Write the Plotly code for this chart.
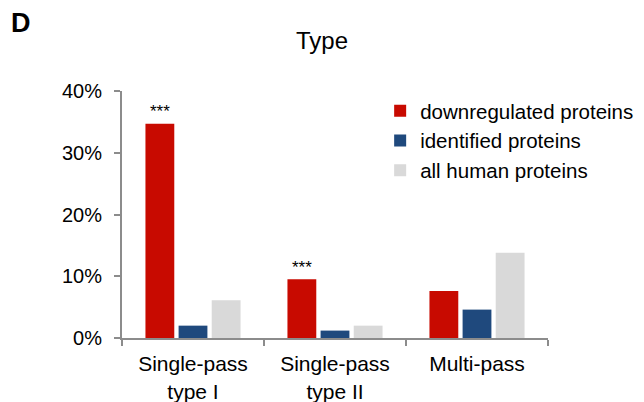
import plotly.graph_objects as go

categories = ["Single-pass<br>type I", "Single-pass<br>type II", "Multi-pass"]
series_names = ["downregulated proteins", "identified proteins", "all human proteins"]
downregulated = [34.7, 9.5, 7.6]
identified = [2.0, 1.2, 4.6]
all_human = [6.1, 2.0, 13.8]
significance = ["***", "***", ""]
y_ticks = [0, 10, 20, 30, 40]
y_tick_labels = ["0%", "10%", "20%", "30%", "40%"]

colors = ["#C80A00", "#1F497D", "#D9D9D9"]
font_family = "Arial, Liberation Sans, sans-serif"

fig = go.Figure()
for i, (name, vals) in enumerate(zip(series_names, [downregulated, identified, all_human])):
    fig.add_trace(go.Bar(
        x=categories, y=vals, name=name, legendgroup=f"g{i}",
        marker=dict(color=colors[i], line=dict(width=0)),
    ))

for cat, val, sig in zip(categories, downregulated, significance):
    if sig:
        fig.add_annotation(x=cat, y=val, text=sig, showarrow=False, xshift=-33,
                           yanchor="middle", yshift=12,
                           font=dict(size=17, color="#000", family=font_family))

fig.add_annotation(xref="paper", yref="paper", x=-0.265, y=1.275, text="<b>D</b>",
                   showarrow=False, xanchor="left", yanchor="middle",
                   font=dict(size=27, color="#000", family=font_family))

fig.update_layout(
    width=644, height=402,
    margin=dict(l=114, r=104, t=83, b=72, autoexpand=False),
    paper_bgcolor="white", plot_bgcolor="white",
    title=dict(text="Type", x=0.4876, xanchor="center", y=0.92, yanchor="middle",
               font=dict(size=24, color="#000", family=font_family)),
    barmode="group", bargap=0.3, bargroupgap=0.13,
    showlegend=True,
    legend=dict(x=0.606, y=1.0, xanchor="left", yanchor="top",
                font=dict(size=20.5, color="#000", family=font_family),
                tracegroupgap=0, bgcolor="rgba(0,0,0,0)"),
    font=dict(family=font_family, color="#000"),
)
fig.update_xaxes(showline=True, linecolor="#8C8C8C", linewidth=2, ticks="outside",
                 tickson="boundaries", ticklen=6, tickcolor="#8C8C8C", tickwidth=2,
                 ticklabelstandoff=6, automargin=False,
                 tickfont=dict(size=21, color="#000"), showgrid=False)
fig.update_yaxes(range=[0, 40], tickvals=y_ticks, ticktext=y_tick_labels,
                 showline=True, linecolor="#8C8C8C", linewidth=2, ticks="outside",
                 ticklen=6, tickcolor="#8C8C8C", tickwidth=2, showgrid=False,
                 ticklabelstandoff=8, automargin=False,
                 zeroline=False, tickfont=dict(size=20, color="#000"))

fig.write_html("out.html")
